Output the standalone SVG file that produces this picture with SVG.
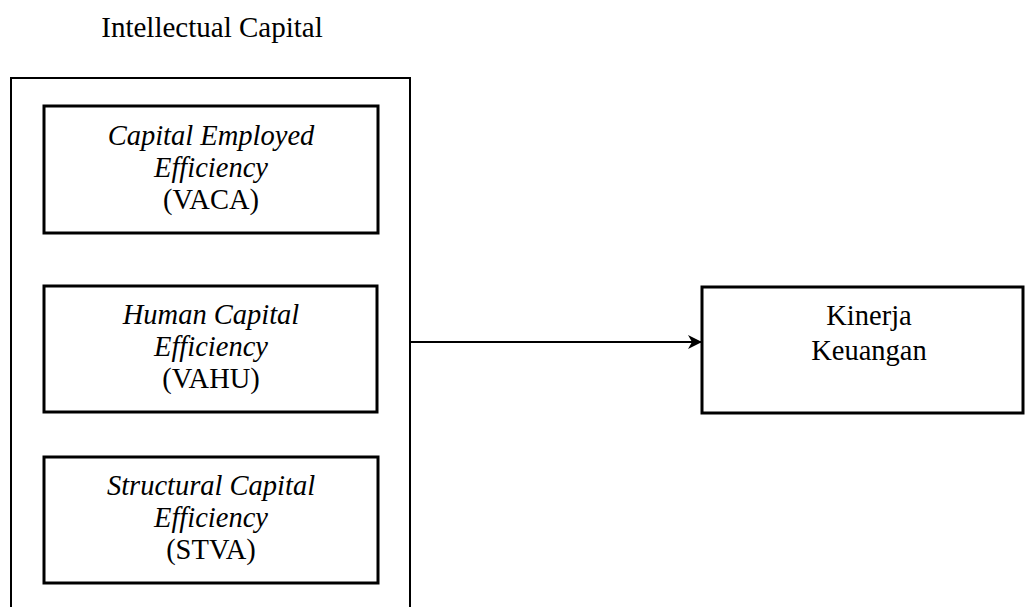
<svg xmlns="http://www.w3.org/2000/svg" width="1025" height="607" viewBox="0 0 1025 607">
<style>
.t{font-family:"Liberation Serif","Times New Roman",serif;font-size:28.5px;fill:#000;text-anchor:middle}
.i{font-style:italic}
.box{fill:#fff;stroke:#000;stroke-width:3}
.outer{fill:#fff;stroke:#000;stroke-width:2}
</style>
<defs>
<marker id="ah" markerWidth="14" markerHeight="14" refX="14" refY="7" orient="auto" markerUnits="userSpaceOnUse">
<path d="M0,0 L14,7 L0,14 L4,7 Z" fill="#000"/>
</marker>
</defs>
<rect width="1025" height="607" fill="#fff"/>
<g id="intellectual-capital">
<text class="t" x="212" y="37" style="font-size:29px">Intellectual Capital</text>
<rect class="outer" x="11" y="78" width="399" height="540"/>
</g>
<g id="vaca">
<rect class="box" x="44" y="106" width="334" height="127"/>
<text class="t i" x="211" y="145">Capital Employed</text>
<text class="t i" x="211" y="177">Efficiency</text>
<text class="t" x="211" y="209">(VACA)</text>
</g>
<g id="vahu">
<rect class="box" x="44" y="286" width="333" height="126"/>
<text class="t i" x="211" y="324">Human Capital</text>
<text class="t i" x="211" y="356">Efficiency</text>
<text class="t" x="211" y="388">(VAHU)</text>
</g>
<g id="stva">
<rect class="box" x="44" y="457" width="334" height="126"/>
<text class="t i" x="211" y="495">Structural Capital</text>
<text class="t i" x="211" y="527">Efficiency</text>
<text class="t" x="211" y="559">(STVA)</text>
</g>
<g id="kinerja">
<rect class="box" x="702" y="287" width="321" height="126"/>
<text class="t" x="869" y="325">Kinerja</text>
<text class="t" x="869" y="360">Keuangan</text>
</g>
<g id="connectors">
<line x1="411" y1="342" x2="702" y2="342" stroke="#000" stroke-width="2" marker-end="url(#ah)"/>
</g>
</svg>
